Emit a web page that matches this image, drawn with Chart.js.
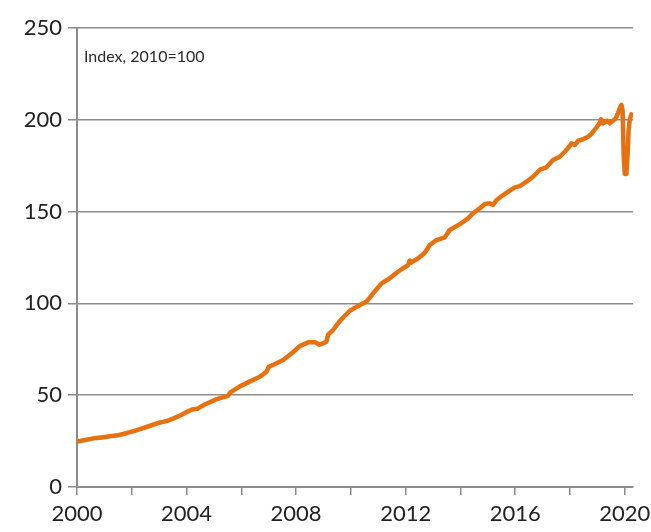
<!DOCTYPE html>
<html>
<head>
<meta charset="utf-8">
<script src="https://cdn.jsdelivr.net/npm/chart.js@4"></script>
<style>
html,body{margin:0;padding:0;background:#fff;}
#wrap{width:651px;height:532px;position:relative;}
</style>
</head>
<body>
<div id="wrap"><canvas id="c" width="651" height="532"></canvas></div>
<script>
// Reading points (decimal year) and index values (2010=100)
const years = [
  2000.00,2000.30,2000.60,2000.90,2001.20,2001.50,2001.80,2002.10,2002.40,2002.70,
  2003.00,2003.30,2003.55,2003.80,2004.00,2004.20,2004.40,2004.55,2004.70,2004.90,
  2005.10,2005.35,2005.50,2005.60,2005.95,2006.30,2006.68,2006.92,2007.00,2007.23,
  2007.53,2007.84,2008.14,2008.44,2008.69,2008.85,2009.00,2009.10,2009.17,2009.35,
  2009.60,2009.96,2010.33,2010.57,2010.81,2011.12,2011.42,2011.67,2011.85,2012.09,
  2012.15,2012.20,2012.46,2012.70,2012.88,2013.10,2013.43,2013.61,2013.98,2014.28,
  2014.46,2014.71,2014.89,2015.07,2015.19,2015.32,2015.56,2015.80,2015.99,2016.17,
  2016.41,2016.65,2016.90,2017.14,2017.38,2017.63,2017.81,2017.99,2018.05,2018.18,
  2018.30,2018.48,2018.66,2018.78,2018.97,2019.09,2019.13,2019.21,2019.36,2019.45,
  2019.57,2019.67,2019.75,2019.83,2019.88,2019.92,2019.96,2020.00,2020.06,2020.10,
  2020.14,2020.18,2020.24
];
const values = [
  24.8,25.6,26.5,27.0,27.6,28.2,29.3,30.6,32.0,33.5,
  35.0,36.0,37.5,39.2,40.8,42.2,42.6,44.0,45.2,46.5,
  47.9,49.0,49.5,51.5,54.8,57.4,60.1,62.8,65.5,67.0,
  69.2,72.8,76.8,78.8,78.9,77.5,78.4,79.0,83.0,85.5,
  90.5,96.0,99.1,101.0,105.5,110.9,113.7,116.7,118.6,120.9,
  123.3,122.2,124.6,127.6,131.8,134.3,136.0,140.0,143.2,146.3,
  149.1,151.8,154.1,154.5,153.6,156.3,159.0,161.4,163.2,163.9,
  166.3,169.0,172.8,174.1,178.1,179.9,182.6,185.7,187.2,186.3,
  188.6,189.4,190.8,192.3,195.9,198.4,200.3,198.1,199.5,198.1,
  199.5,200.8,203.5,206.8,208.1,205.0,180.0,170.5,170.5,180.0,
  194.4,199.9,203.0
];
const xTicks = [2000,2002,2004,2006,2008,2010,2012,2014,2016,2018,2020];
const xLabels = ['2000','','2004','','2008','','2012','','2016','','2020'];
const yTicks = [0,50,100,150,200,250];
const note = 'Index, 2010=100';

const points = years.map((x,i)=>({x:x,y:values[i]}));
const FONT = 'Lato';
const GRID = '#8c8c8c';

const notePlugin = {
  id:'note',
  afterDraw(chart){
    const ctx = chart.ctx, a = chart.chartArea;
    ctx.save();
    ctx.font = '16px ' + FONT;
    ctx.fillStyle = '#2a2a2a';
    ctx.textBaseline = 'middle';
    ctx.textAlign = 'left';
    ctx.fillText(note, a.left + 7, a.top + 29);
    ctx.restore();
  }
};

new Chart(document.getElementById('c'), {
  type:'line',
  data:{datasets:[{
    data:points,
    borderColor:'#E8710F',
    borderWidth:4.5,
    pointRadius:0,
    tension:0,
    fill:false,
    borderJoinStyle:'round',
    borderCapStyle:'round'
  }]},
  options:{
    responsive:false,
    animation:false,
    devicePixelRatio:1,
    layout:{padding:{left:0,right:18,top:28,bottom:0}},
    plugins:{legend:{display:false},tooltip:{enabled:false}},
    scales:{
      x:{
        type:'linear',
        min:2000, max:2020.3,
        afterBuildTicks(s){ s.ticks = xTicks.map(v=>({value:v})); },
        afterFit(s){ s.height = 45; s.paddingRight = 0; s.paddingLeft = 0; },
        grid:{display:true,drawOnChartArea:false,drawTicks:true,tickLength:8,color:GRID,lineWidth:1.5},
        border:{display:true,color:GRID,width:2},
        ticks:{
          autoSkip:false,maxRotation:0,
          padding:6,
          color:'#222',
          font:{family:FONT,size:22},
          callback(v){ const i = xTicks.indexOf(v); return i>=0 ? xLabels[i] : ''; }
        }
      },
      y:{
        min:0,max:250,
        afterBuildTicks(s){ s.ticks = yTicks.map(v=>({value:v})); },
        afterFit(s){ s.width = 77; },
        grid:{color:GRID,lineWidth:1.5,tickLength:9,drawTicks:true},
        border:{display:true,color:GRID,width:2},
        ticks:{
          padding:6,
          color:'#222',
          font:{family:FONT,size:22}
        }
      }
    }
  },
  plugins:[notePlugin]
});
</script>
</body>
</html>
